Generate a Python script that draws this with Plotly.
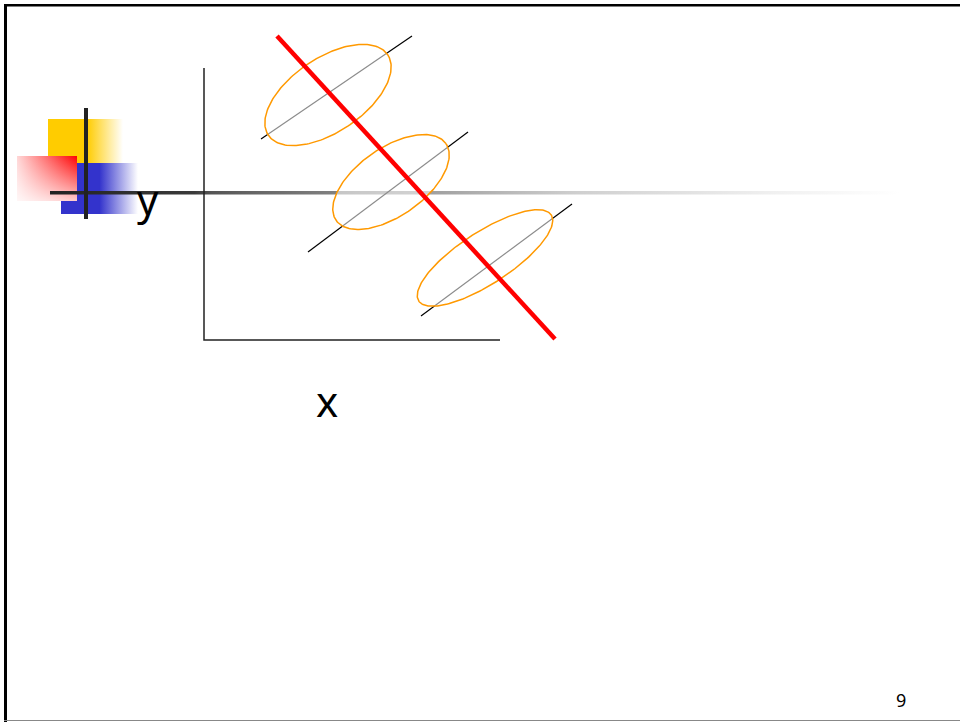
import numpy as np
import plotly.graph_objects as go

# ---- diagram values (pixel-space coordinates of the slide) ----
ellipse_cx = [328, 391, 485]
ellipse_cy = [95, 182, 258]
ellipse_a = [72, 67, 79]
ellipse_b = [37, 34, 26]
ellipse_deg = [34, 35, 33]

seg_x0 = [261, 308, 421]
seg_y0 = [139, 252, 316]
seg_x1 = [412, 468, 572]
seg_y1 = [36, 132, 204]

red_x = [277, 555]
red_y = [36, 339]

axis_x = [204, 204, 500]
axis_y = [68, 340, 340]

ORANGE = '#FF9900'


def rect(x0, x1, y0, y1):
    return [x0, x1, x1, x0, x0], [y0, y0, y1, y1, y0]


def ellipse_pts(cx, cy, a, b, deg, n=200):
    t = np.linspace(0, 2 * np.pi, n)
    th = np.radians(deg)
    x = cx + a * np.cos(th) * np.cos(t) - b * np.sin(th) * np.sin(t)
    y = cy - (a * np.sin(th) * np.cos(t) + b * np.cos(th) * np.sin(t))
    return x, y


fig = go.Figure()

#### bullet decoration (top left) ####
xs, ys = rect(48, 123, 119, 165)
fig.add_trace(go.Scatter(x=xs, y=ys, mode='none', fill='toself',
                         fillgradient=dict(type='horizontal', start=48, stop=123,
                                           colorscale=[[0, '#FFCC00'], [0.52, '#FFCC00'], [1, '#FFFFFF']])))
xs, ys = rect(61, 138, 163, 214)
fig.add_trace(go.Scatter(x=xs, y=ys, mode='none', fill='toself',
                         fillgradient=dict(type='horizontal', start=61, stop=138,
                                           colorscale=[[0, '#3333CC'], [0.5, '#3333CC'], [1, '#FFFFFF']])))
xs, ys = rect(17, 77, 156, 201)
fig.add_trace(go.Scatter(x=xs, y=ys, mode='none', fill='toself',
                         fillgradient=dict(type='horizontal', start=17, stop=77,
                                           colorscale=[[0, '#FFD8D8'], [1, '#FF0000']])))
fig.add_trace(go.Scatter(x=xs, y=ys, mode='none', fill='toself',
                         fillgradient=dict(type='vertical', start=156, stop=201,
                                           colorscale=[[0, 'rgba(255,255,255,0)'], [1, 'rgba(255,255,255,0.8)']])))

# long fading rule
xs, ys = rect(50, 900, 191, 194.5)
fig.add_trace(go.Scatter(x=xs, y=ys, mode='none', fill='toself',
                         fillgradient=dict(type='horizontal', start=50, stop=900,
                                           colorscale=[[0, '#222222'], [0.17, '#3a3a3a'], [0.19, '#555555'],
                                                       [0.24, '#666666'], [0.62, '#cfcfcf'],
                                                       [0.85, '#f0f0f0'], [1, '#FFFFFF']])))
fig.add_trace(go.Scatter(x=[86, 86], y=[108, 219], mode='lines',
                         line=dict(color='#222222', width=4)))

#### axes ####
fig.add_trace(go.Scatter(x=axis_x, y=axis_y, mode='lines',
                         line=dict(color='#222222', width=1.5)))

#### black segments, ellipses, red line ####
for i in range(3):
    fig.add_trace(go.Scatter(x=[seg_x0[i], seg_x1[i]], y=[seg_y0[i], seg_y1[i]], mode='lines',
                             line=dict(color='black', width=1.2)))
for i in range(3):
    ex, ey = ellipse_pts(ellipse_cx[i], ellipse_cy[i], ellipse_a[i], ellipse_b[i], ellipse_deg[i])
    fig.add_trace(go.Scatter(x=ex, y=ey, mode='lines', fill='toself',
                             fillcolor='rgba(255,255,255,0.55)',
                             line=dict(color=ORANGE, width=1.5)))

fig.add_trace(go.Scatter(x=red_x, y=red_y, mode='lines',
                         line=dict(color='#FF0000', width=4.5)))

#### labels ####
fig.add_annotation(x=148, y=198, text='y', showarrow=False,
                   font=dict(family='Noto Sans', size=42, color='black'))
fig.add_annotation(x=327, y=400, text='x', showarrow=False,
                   font=dict(family='Noto Sans', size=42, color='black'))
fig.add_annotation(x=901, y=700, text='9', showarrow=False,
                   font=dict(family='Noto Sans', size=18, color='black'))

#### slide frame ####
fig.add_shape(type='line', x0=4, x1=960, y0=5.2, y1=5.2, line=dict(color='black', width=2.5))
fig.add_shape(type='line', x0=5.5, x1=5.5, y0=4, y1=722, line=dict(color='black', width=3))
fig.add_shape(type='line', x0=4, x1=960, y0=720.5, y1=720.5, line=dict(color='#888888', width=1))

fig.update_layout(
    width=960, height=722,
    margin=dict(l=0, r=0, t=0, b=0),
    showlegend=False,
    paper_bgcolor='white', plot_bgcolor='white',
    xaxis=dict(range=[0, 960], visible=False, fixedrange=True),
    yaxis=dict(range=[722, 0], visible=False, fixedrange=True),
)

# drop the page's default body margin so the figure sits at the window origin
fig.write_html("out.html", config={'displayModeBar': False},
               post_script="document.body.style.margin='0';document.body.style.overflow='hidden';")
